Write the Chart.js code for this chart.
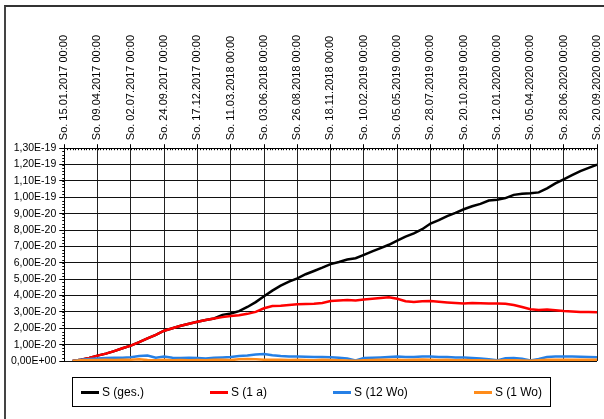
<!DOCTYPE html>
<html>
<head>
<meta charset="utf-8">
<script src="https://cdn.jsdelivr.net/npm/chart.js@4"></script>
<style>
  body { margin: 0; background: #fff; }
  #wrap { position: relative; width: 604px; height: 419px; }
  #frame { position: absolute; left: 4px; top: 5px; width: 600px; height: 414px;
           border-left: 2px solid #444; border-top: 2px solid #333; pointer-events: none; }
  #legend { position: absolute; left: 72px; top: 377px; width: 479px; height: 30px;
            box-sizing: border-box; border: 1px solid #000; padding: 0 8px;
            display: flex; align-items: center; justify-content: space-between;
            font: 12px "Liberation Sans", Arial, sans-serif; color: #000; }
  #legend span.mark { display: inline-block; width: 18px; height: 3px; margin-right: 3px; vertical-align: middle; }
</style>
</head>
<body>
<div id="wrap">
  <canvas id="chart" width="604" height="419"></canvas>
  <div id="frame"></div>
  <div id="legend"></div>
</div>
<script>
// date labels on the top axis, one every 12 weeks
const tickLabels = [
  "So. 15.01.2017 00:00", "So. 09.04.2017 00:00", "So. 02.07.2017 00:00",
  "So. 24.09.2017 00:00", "So. 17.12.2017 00:00", "So. 11.03.2018 00:00",
  "So. 03.06.2018 00:00", "So. 26.08.2018 00:00", "So. 18.11.2018 00:00",
  "So. 10.02.2019 00:00", "So. 05.05.2019 00:00", "So. 28.07.2019 00:00",
  "So. 20.10.2019 00:00", "So. 12.01.2020 00:00", "So. 05.04.2020 00:00",
  "So. 28.06.2020 00:00", "So. 20.09.2020 00:00"
];

// weeks since So. 15.01.2017
const weeks = [3, 6, 9, 12, 15, 18, 21, 24, 27, 30, 33, 36, 39, 42, 45, 48,
  51, 54, 57, 60, 63, 66, 69, 72, 75, 78, 81, 84, 87, 90, 93, 96,
  99, 102, 105, 108, 111, 114, 117, 120, 123, 126, 129, 132, 135, 138, 141, 144,
  147, 150, 153, 156, 159, 162, 165, 168, 171, 174, 177, 180, 183, 186, 189, 192];

// values in units of 1E-20
const sGes = [0, 0.08, 0.18, 0.33, 0.45, 0.6, 0.78, 0.94, 1.15, 1.38, 1.6, 1.85, 2.0, 2.15, 2.28, 2.4,
  2.5, 2.6, 2.82, 2.9, 3.05, 3.3, 3.6, 3.95, 4.3, 4.6, 4.85, 5.05, 5.3, 5.5, 5.7, 5.92,
  6.05, 6.2, 6.28, 6.48, 6.7, 6.9, 7.1, 7.36, 7.6, 7.8, 8.05, 8.4, 8.6, 8.85, 9.05, 9.27,
  9.45, 9.6, 9.8, 9.85, 9.95, 10.15, 10.22, 10.25, 10.3, 10.55, 10.85, 11.1, 11.35, 11.6, 11.8, 12.0];
const s1a = [0, 0.08, 0.18, 0.33, 0.45, 0.6, 0.78, 0.94, 1.15, 1.38, 1.6, 1.85, 2.0, 2.15, 2.28, 2.4,
  2.5, 2.6, 2.68, 2.75, 2.8, 2.88, 3.0, 3.22, 3.36, 3.38, 3.42, 3.46, 3.48, 3.5, 3.55, 3.66,
  3.7, 3.72, 3.7, 3.75, 3.8, 3.85, 3.9, 3.8, 3.65, 3.6, 3.65, 3.66, 3.62, 3.58, 3.55, 3.52,
  3.55, 3.53, 3.52, 3.52, 3.5, 3.42, 3.3, 3.16, 3.12, 3.14, 3.1, 3.05, 3.02, 3.0, 3.0, 2.98];
const s12wo = [0, 0.08, 0.12, 0.16, 0.18, 0.2, 0.2, 0.23, 0.3, 0.33, 0.2, 0.28, 0.2, 0.18, 0.2, 0.18,
  0.16, 0.2, 0.22, 0.25, 0.3, 0.33, 0.4, 0.42, 0.35, 0.3, 0.28, 0.27, 0.26, 0.24, 0.24, 0.23,
  0.2, 0.15, 0.03, 0.18, 0.2, 0.22, 0.25, 0.27, 0.25, 0.24, 0.28, 0.27, 0.25, 0.24, 0.22, 0.21,
  0.19, 0.15, 0.1, 0.04, 0.17, 0.18, 0.14, 0.03, 0.12, 0.24, 0.28, 0.28, 0.27, 0.26, 0.25, 0.23];
const s1wo = [0, 0.04, 0.06, 0.06, 0.08, 0.06, 0.07, 0.08, 0.1, 0.06, 0.05, 0.08, 0.05, 0.06, 0.04, 0.06,
  0.05, 0.07, 0.08, 0.06, 0.1, 0.12, 0.1, 0.08, 0.07, 0.08, 0.06, 0.07, 0.06, 0.05, 0.07, 0.06,
  0.05, 0.03, 0.02, 0.05, 0.06, 0.07, 0.08, 0.07, 0.06, 0.08, 0.09, 0.07, 0.06, 0.07, 0.05, 0.06,
  0.05, 0.04, 0.03, 0.02, 0.05, 0.04, 0.03, 0.02, 0.04, 0.07, 0.08, 0.07, 0.08, 0.07, 0.08, 0.07];

const seriesNames = ["S (ges.)", "S (1 a)", "S (12 Wo)", "S (1 Wo)"];
const seriesColors = ["#000000", "#ff0000", "#2680e6", "#ff8c1a"];
const seriesValues = [sGes, s1a, s12wo, s1wo];

const toPoints = (vals) => vals.map((v, i) => ({ x: weeks[i], y: v }));

// E-notation with comma, like "1,30E-19"
function formatE(v) {
  const s = (v * 1e-20).toExponential(2);
  const [m, e] = s.split("e");
  const sign = e[0];
  const digits = e.slice(1).padStart(2, "0");
  return m.replace(".", ",") + "E" + sign + digits;
}

// small minor ticks along the top axis and y axis
const minorTicks = {
  id: "minorTicks",
  afterDraw(chart) {
    const { ctx, chartArea } = chart;
    const x = chart.scales.x, y = chart.scales.y;
    ctx.save();
    ctx.strokeStyle = "#000";
    ctx.lineWidth = 1;
    ctx.beginPath();
    for (let w = 0; w <= 192; w++) {
      const px = Math.round(x.getPixelForValue(w)) + 0.5;
      ctx.moveTo(px, chartArea.top);
      ctx.lineTo(px, chartArea.top + 2);
    }
    for (let k = 0; k <= 65; k++) {
      const py = Math.round(y.getPixelForValue(k * 0.2)) + 0.5;
      ctx.moveTo(chartArea.left - 2, py);
      ctx.lineTo(chartArea.left, py);
    }
    ctx.stroke();
    ctx.restore();
  }
};

const tickFont = { family: "'Liberation Sans', Arial, sans-serif", size: 11 };

const chart = new Chart(document.getElementById("chart"), {
  type: "line",
  data: {
    datasets: seriesNames.map((name, i) => ({
      label: name,
      data: toPoints(seriesValues[i]),
      borderColor: seriesColors[i],
      backgroundColor: seriesColors[i],
      borderWidth: 2.5,
      pointRadius: 0,
      tension: 0,
      order: 4 - i
    }))
  },
  options: {
    responsive: false,
    animation: false,
    devicePixelRatio: 1,
    layout: { padding: { top: 31, left: 8, right: 7, bottom: 58 } },
    plugins: {
      legend: { display: false },
      tooltip: { enabled: false }
    },
    scales: {
      x: {
        type: "linear",
        position: "top",
        min: 0,
        max: 192,
        grid: { color: "#222", tickLength: 4, tickColor: "#000" },
        border: { color: "#000" },
        ticks: {
          stepSize: 12,
          autoSkip: false,
          minRotation: 90,
          maxRotation: 90,
          padding: 4,
          labelOffset: 13,
          color: "#000",
          font: tickFont,
          callback: (v) => tickLabels[v / 12]
        }
      },
      y: {
        min: 0,
        max: 13,
        grid: { color: "#111", tickLength: 5, tickColor: "#000" },
        border: { color: "#000" },
        ticks: {
          stepSize: 1,
          padding: 3,
          color: "#000",
          font: { family: tickFont.family, size: 10.5 },
          callback: (v) => formatE(v)
        }
      }
    }
  },
  plugins: [minorTicks]
});

// legend box under the plot
const legendBox = document.getElementById("legend");
chart.data.datasets.forEach((ds) => {
  const item = document.createElement("div");
  const mark = document.createElement("span");
  mark.className = "mark";
  mark.style.background = ds.borderColor;
  item.appendChild(mark);
  item.appendChild(document.createTextNode(ds.label));
  legendBox.appendChild(item);
});
</script>
</body>
</html>
